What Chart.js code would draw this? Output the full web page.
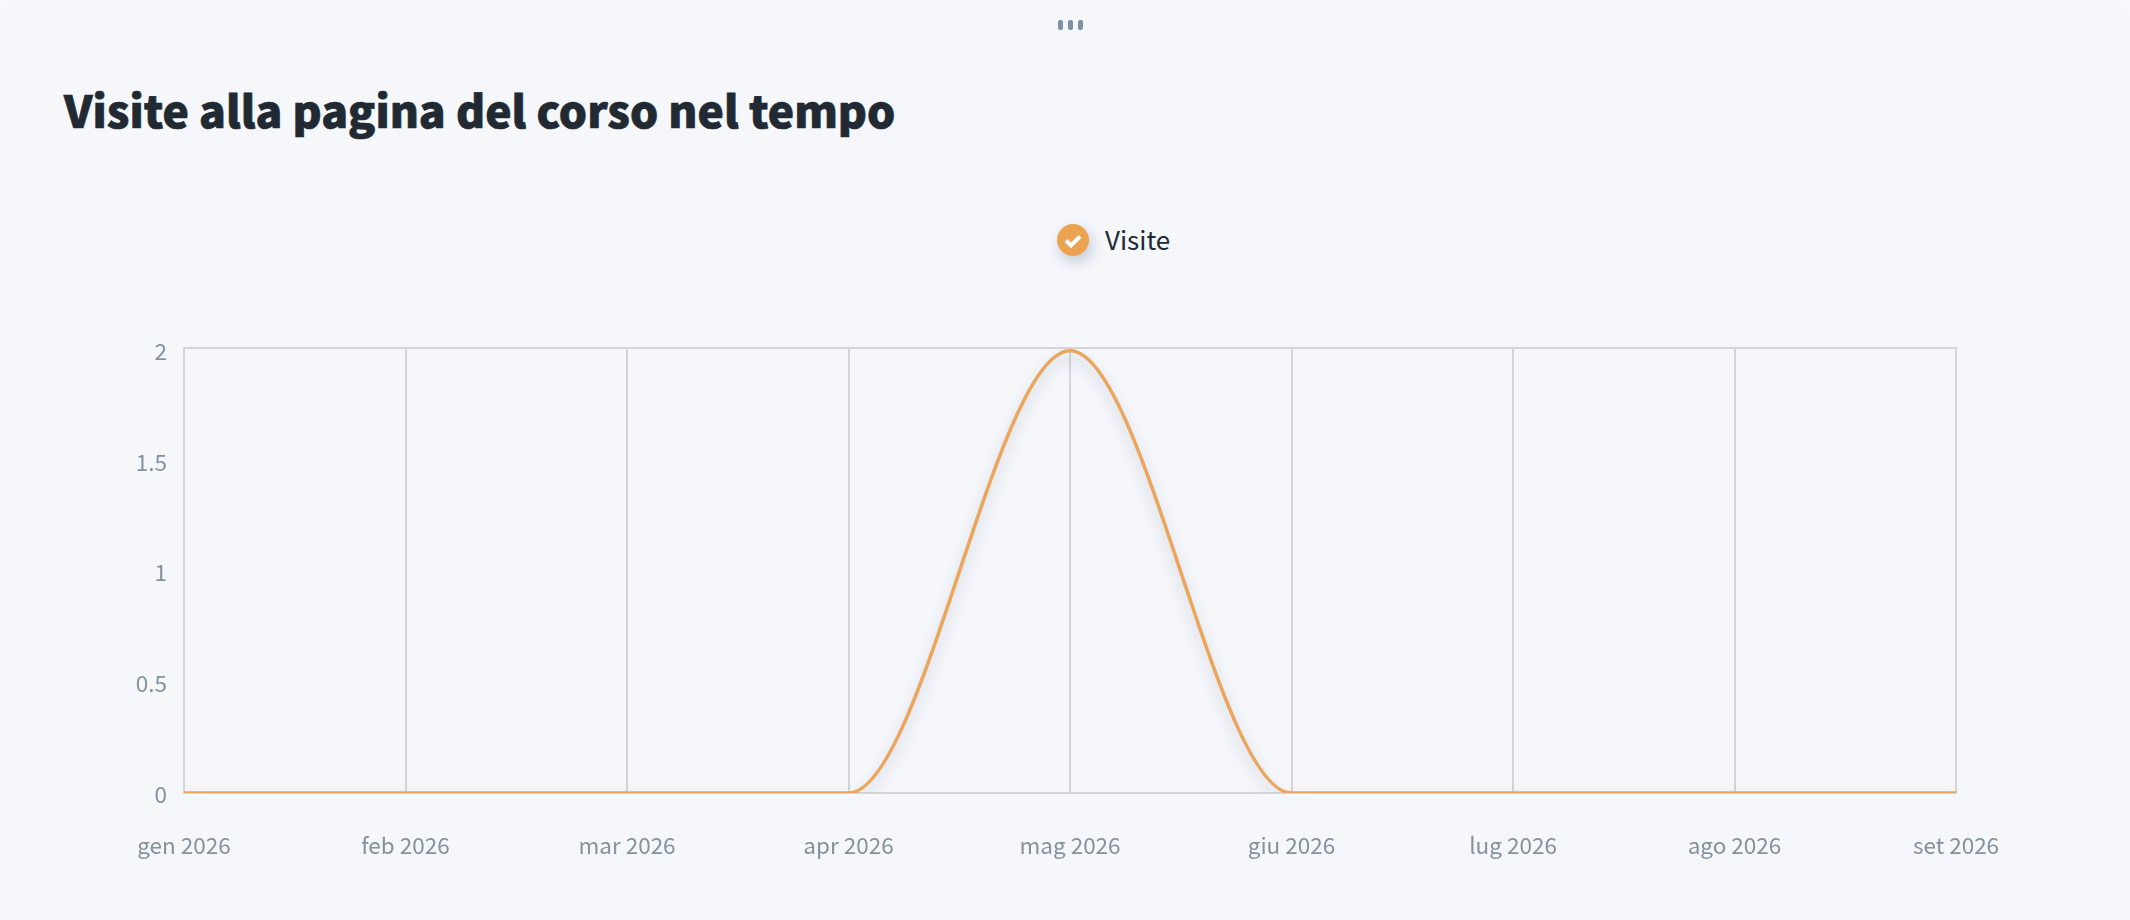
<!DOCTYPE html>
<html lang="it">
<head>
<meta charset="utf-8">
<title>Visite alla pagina del corso nel tempo</title>
<script src="https://cdn.jsdelivr.net/npm/chart.js@4/dist/chart.umd.min.js"></script>
<style>
  html, body { margin: 0; padding: 0; width: 2130px; height: 920px; overflow: hidden; background: #f8f9fc; font-family: "Noto Sans CJK SC", "Noto Sans", sans-serif; }
  #wrap { position: relative; width: 2130px; height: 920px; background: #f5f7fb; border-radius: 20px 20px 0 0; }
  #graphic { position: absolute; left: 0; top: 0; }
  h2 { position: absolute; left: 64px; top: 76px; margin: 0; font-size: 44.4px; line-height: 66px; font-weight: 900; color: #212a33; white-space: nowrap; -webkit-text-stroke: 0.7px #212a33; }
  .grip { position: absolute; top: 20px; width: 5px; height: 10px; border-radius: 2px; background: #7d90a5; }
  #legend { position: absolute; left: 1057px; top: 224px; height: 32px; display: flex; align-items: center; }
  #legend .dot { width: 32px; height: 32px; border-radius: 50%; background: #eba352; box-shadow: 3px 6px 14px rgba(120,135,160,.4); display: block; }
  #legend span { margin-left: 16px; font-size: 26px; line-height: 30px; position: relative; top: -1px; color: #212a35; }
</style>
</head>
<body>
<div id="wrap">
  <div class="grip" style="left:1058px"></div>
  <div class="grip" style="left:1068px"></div>
  <div class="grip" style="left:1078px"></div>
  <h2>Visite alla pagina del corso nel tempo</h2>
  <div id="legend">
    <svg class="dot" viewBox="0 0 32 32"><path d="M9 16.5l5 5 9-9" fill="none" stroke="#fff" stroke-width="4"/></svg>
    <span id="legendLabel"></span>
  </div>
  <canvas id="graphic" width="2130" height="920"></canvas>
</div>
<script>
const months = ['gen 2026', 'feb 2026', 'mar 2026', 'apr 2026', 'mag 2026', 'giu 2026', 'lug 2026', 'ago 2026', 'set 2026'];
const visits = [0, 0, 0, 0, 2, 0, 0, 0, 0];
const seriesName = 'Visite';

document.getElementById('legendLabel').textContent = seriesName;

const gridColor = '#d3d5da';
const tickColor = '#84929f';
const tickFont = { family: '"Noto Sans CJK SC", "Noto Sans", sans-serif', size: 22.5 };

// top and right edge of the plot, plus a soft shadow under the line
const plotFrame = {
  id: 'plotFrame',
  beforeDatasetsDraw(chart) {
    const { ctx, chartArea: a } = chart;
    ctx.save();
    ctx.strokeStyle = gridColor;
    ctx.lineWidth = 2;
    ctx.strokeRect(a.left, a.top, a.right - a.left, a.bottom - a.top);
    ctx.restore();
  },
  beforeDatasetDraw(chart) {
    const ctx = chart.ctx;
    ctx.save();
    ctx.shadowColor = 'rgba(110,120,135,0.4)';
    ctx.shadowBlur = 14;
    ctx.shadowOffsetX = 0;
    ctx.shadowOffsetY = 7;
  },
  afterDatasetDraw(chart) {
    chart.ctx.restore();
  },
};

const graphicControler = new Chart(document.getElementById('graphic'), {
  type: 'line',
  data: {
    labels: months,
    datasets: [
      {
        label: seriesName,
        data: visits,
        borderColor: '#eba55c',
        borderWidth: 3.5,
        cubicInterpolationMode: 'monotone',
        pointRadius: 0,
        fill: false,
      },
    ],
  },
  options: {
    responsive: false,
    animation: false,
    devicePixelRatio: 1,
    layout: { padding: { left: 0, right: 174, top: 348, bottom: 0 } },
    plugins: { legend: { display: false }, title: { display: false }, tooltip: { enabled: false } },
    scales: {
      x: {
        offset: false,
        grid: { color: gridColor, lineWidth: 2, drawTicks: false },
        border: { display: false },
        ticks: { color: tickColor, font: tickFont, maxRotation: 0, autoSkip: false, padding: 39 },
        afterFit(scale) { scale.height = 127; },
      },
      y: {
        min: 0,
        max: 2.012,
        grid: { display: false, drawTicks: false },
        border: { display: false },
        ticks: {
          color: tickColor,
          font: tickFont,
          stepSize: 0.5,
          includeBounds: false,
          padding: 17,
          labelOffset: 1,
          callback: (v) => String(v),
        },
        afterFit(scale) { scale.width = 184; },
      },
    },
  },
  plugins: [plotFrame],
});
</script>
</body>
</html>
